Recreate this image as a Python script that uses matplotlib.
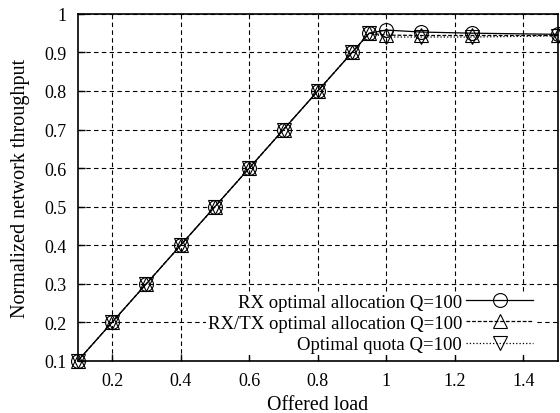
import matplotlib
matplotlib.use('Agg')
import matplotlib.pyplot as plt
import numpy as np

plt.rcParams['font.family'] = ['Liberation Serif', 'DejaVu Serif']
plt.rcParams['font.size'] = 12

load = [0.1, 0.2, 0.3, 0.4, 0.5, 0.6, 0.7, 0.8, 0.9, 0.95, 1.0, 1.1, 1.25, 1.5]
rx_opt = [0.1, 0.2, 0.3, 0.4, 0.5, 0.6, 0.7, 0.8, 0.9, 0.95, 0.958, 0.953, 0.95, 0.947]
rxtx_opt = [0.1, 0.2, 0.3, 0.4, 0.5, 0.6, 0.7, 0.8, 0.9, 0.95, 0.945, 0.944, 0.944, 0.944]
quota = [0.1, 0.2, 0.3, 0.4, 0.5, 0.6, 0.7, 0.8, 0.9, 0.95, 0.94, 0.94, 0.94, 0.943]

fig = plt.figure(figsize=(5.6, 4.14), dpi=100)
ax = fig.add_axes([0.139, 0.126, 0.857, 0.838])

ms = 10
ax.plot(load, rx_opt, '-', color='black', lw=0.9, marker='o', ms=ms,
        mfc='none', mec='black', mew=0.8, clip_on=False,
        label='RX optimal allocation Q=100')
ax.plot(load, rxtx_opt, '--', color='black', lw=0.9, marker='^', ms=ms,
        mfc='none', mec='black', mew=0.8, dashes=(3, 1.5), clip_on=False,
        label='RX/TX optimal allocation Q=100')
ax.plot(load, quota, ':', color='black', lw=0.9, marker='v', ms=ms,
        mfc='none', mec='black', mew=0.8, clip_on=False,
        label='Optimal quota Q=100')

ax.set_xlim(0.1, 1.5)
ax.set_ylim(0.1, 1.0)
ax.set_xticks([0.2, 0.4, 0.6, 0.8, 1.0, 1.2, 1.4])
ax.set_xticklabels(['0.2', '0.4', '0.6', '0.8', '1', '1.2', '1.4'])
ax.set_yticks([0.1, 0.2, 0.3, 0.4, 0.5, 0.6, 0.7, 0.8, 0.9, 1.0])
ax.set_yticklabels(['0.1', '0.2', '0.3', '0.4', '0.5', '0.6', '0.7', '0.8', '0.9', '1'])
ax.tick_params(direction='in', length=5, width=1, labelsize=13, pad=8)
ax.grid(True, color='black', linestyle=(0, (4, 3)), lw=0.8)

for s in ax.spines.values():
    s.set_linewidth(1.2)
    s.set_zorder(6)

ax.set_xlabel('Offered load', fontsize=14.3, labelpad=4)
ax.set_ylabel('Normalized network throughput', fontsize=14.5, labelpad=10)

leg = ax.legend(loc='lower right', frameon=True, markerfirst=False, handlelength=3.6,
                fontsize=13.5, borderpad=0.1, borderaxespad=0, labelspacing=0.22,
                handletextpad=0.2, fancybox=False, framealpha=1,
                bbox_to_anchor=(0.953, 0.017))
leg.get_frame().set_edgecolor('none')
leg.get_frame().set_facecolor('white')

fig.savefig('out.png', dpi=100)
